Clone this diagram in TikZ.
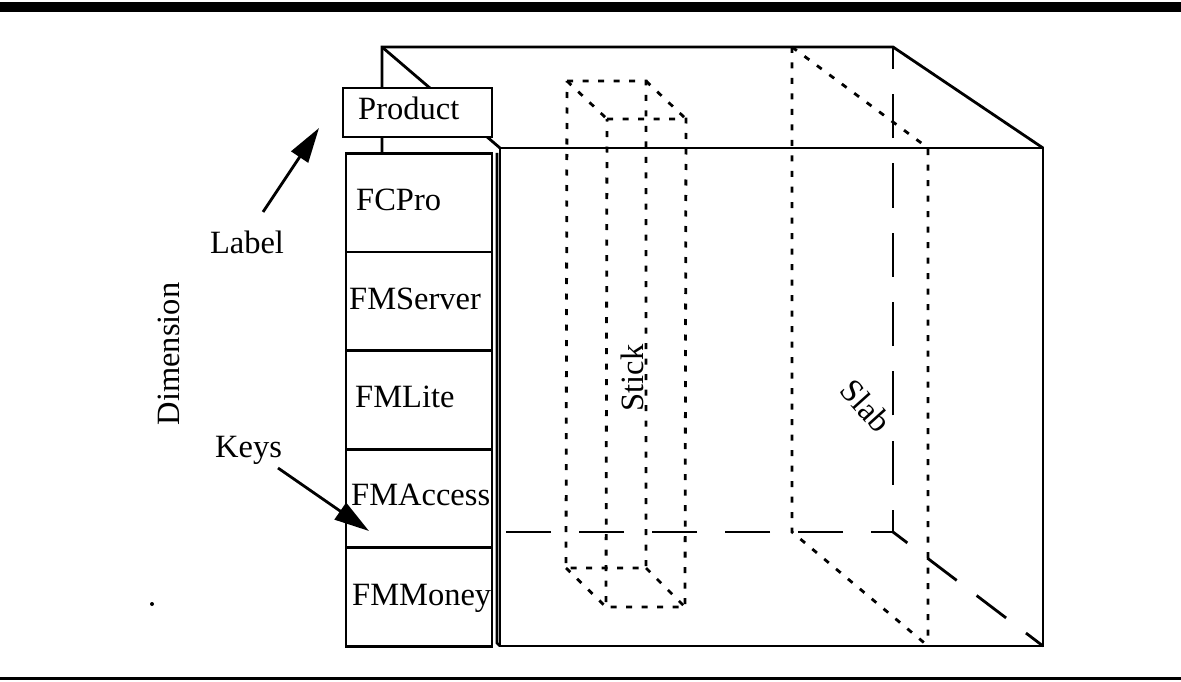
\documentclass[tikz,border=0pt]{standalone}
\usepackage{fontspec}
\setmainfont{Liberation Serif}
\usetikzlibrary{arrows.meta}
\begin{document}
\begin{tikzpicture}[x=1pt,y=-1pt,
  edge/.style={line width=2.8pt},
  hidden/.style={line width=2.8pt, dash pattern=on 44pt off 25.3pt, dash phase=22pt},
  dotline/.style={line width=2.8pt, dash pattern=on 6pt off 9.5pt},
  keybox/.style={draw, line width=2.8pt, fill=white, minimum width=146pt,
    minimum height=98.6pt, inner sep=0pt, outer sep=0pt},
  keytext/.style={anchor=base west, inner sep=0pt, font=\fontsize{32.5}{38}\selectfont},
  caption/.style={inner sep=0pt, font=\fontsize{32.5}{38}\selectfont},
  ptr/.style={line width=2.8pt, -{Triangle[length=35pt,width=20pt]}}]
\useasboundingbox (0,0) rectangle (1181,682);

% rules above and below
\fill (0,2) rectangle (1181,12);
\draw[line width=3pt] (0,678.5) -- (1181,678.5);

% cube corners
\coordinate (B1) at (382,47);  \coordinate (B2) at (893,47);
\coordinate (B3) at (893,532); \coordinate (B4) at (382,532);
\coordinate (F1) at (500,148); \coordinate (F2) at (1043,148);
\coordinate (F3) at (1043,646);\coordinate (F4) at (500,646);
\coordinate (H) at (500,532);

% visible back edges and depth edges
\draw[edge] (B4) -- (B1) -- (B2) -- (F2);
\draw[edge] (B1) -- (F1);
% front face
\draw[edge] (F1) rectangle (F3);
% hidden edges
\draw[hidden] (B3) -- (B2);
\draw[line width=2.8pt, dash pattern=on 45pt off 28pt, dash phase=23pt] (B3) -- (H);
\draw[line width=2.8pt, dash pattern=on 37pt off 25pt, dash phase=19pt] (B3) -- (F3);

% stick
\coordinate (S1) at (567,81);  \coordinate (S2) at (646,81);
\coordinate (S3) at (646,568); \coordinate (S4) at (566,568);
\coordinate (T1) at (607,119); \coordinate (T2) at (686,119);
\coordinate (T3) at (685,607); \coordinate (T4) at (606,607);
\draw[dotline] (S1) -- (S2) -- (S3) -- (S4) -- cycle;
\draw[dotline] (T1) -- (T2) -- (T3) -- (T4) -- cycle;
\draw[dotline] (S1) -- (T1) (S2) -- (T2) (S3) -- (T3) (S4) -- (T4);
\node[caption, rotate=90] (stick) at (632,378) {Stick};

% slab
\coordinate (L1) at (792,47);  \coordinate (L2) at (928,148);
\coordinate (L3) at (928,646); \coordinate (L4) at (792,532);
\draw[dotline] (L1) -- (L2) -- (L3);
\draw[dotline] (L1) -- (L4) -- (L3);
\node[caption, rotate=-48] (slab) at (866,406) {Slab};

% dimension: label and keys
\node[keybox, minimum width=149pt, minimum height=49pt] (prod) at (417.5,112.5) {};
\node[keytext] (prodtxt) at (358,120) {Product};
\node[keybox] (k1) at (419,202.6) {};
\node[keybox] (k2) at (419,301.2) {};
\node[keybox] (k3) at (419,399.8) {};
\node[keybox] (k4) at (419,498.4) {};
\node[keybox] (k5) at (419,597.0) {};
\node[keytext] at (356,210) {FCPro};
\node[keytext] at (349,309) {FMServer};
\node[keytext] at (355,407) {FMLite};
\node[keytext] at (351,505.5) {FMAccess};
\node[keytext] at (352,605) {FMMoney};
\draw[edge] (497,153) -- (497,643) -- (F4);

% captions and pointers
\node[caption, anchor=base] (lbl) at (247,253) {Label};
\node[caption, rotate=90] (dim) at (169,354) {Dimension};
\node[caption, anchor=base] (keys) at (248.5,457) {Keys};
\coordinate (lbltail) at (263,212);
\coordinate (lbltip) at (319,128);
\coordinate (keystail) at (278,468);
\coordinate (keystip) at (369,531);
\draw[ptr] (lbltail) -- (lbltip);
\draw[ptr] (keystail) -- (keystip);

% stray point
\fill (152,604) circle (2pt);
\end{tikzpicture}
\end{document}
